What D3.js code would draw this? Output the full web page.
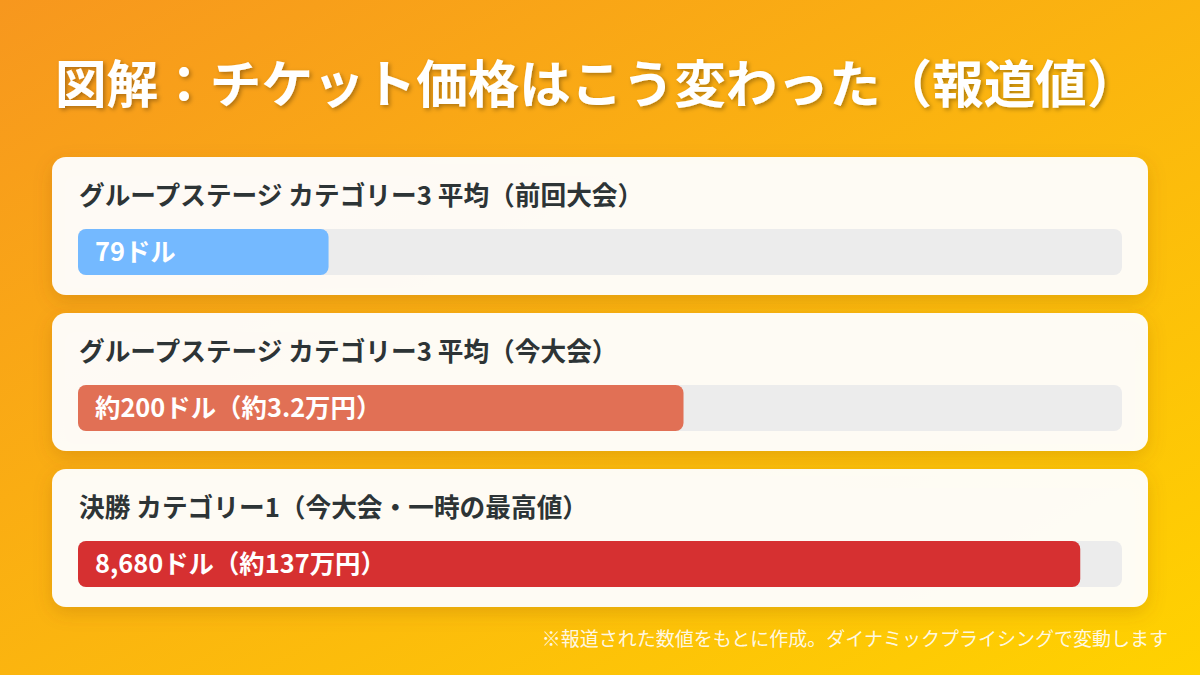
<!DOCTYPE html>
<html><head><meta charset="utf-8">
<script src="https://cdn.jsdelivr.net/npm/d3@7"></script>
<style>
html,body{margin:0;padding:0;width:1200px;height:675px;overflow:hidden;}
svg{display:block;font-family:"Noto Sans CJK JP","Noto Sans",sans-serif;}
</style></head>
<body><svg id="chart" width="1200" height="675"></svg>
<script>
const title = "図解：チケット価格はこう変わった（報道値）";
const categories = [
  "グループステージ カテゴリー3 平均（前回大会）",
  "グループステージ カテゴリー3 平均（今大会）",
  "決勝 カテゴリー1（今大会・一時の最高値）"
];
const values = [79, 200, 8680];
const valueLabels = ["79ドル", "約200ドル（約3.2万円）", "8,680ドル（約137万円）"];
const colors = ["#74b9ff", "#e17055", "#d63031"];
const footnote = "※報道された数値をもとに作成。ダイナミックプライシングで変動します";

const W = 1200, H = 675;
const svg = d3.select("#chart");
const defs = svg.append("defs");
const bg = defs.append("linearGradient").attr("id","bg")
  .attr("x1","0").attr("y1","0").attr("x2","1").attr("y2","1");
bg.append("stop").attr("offset","0%").attr("stop-color","#f7971e");
bg.append("stop").attr("offset","100%").attr("stop-color","#ffd200");
const sh = defs.append("filter").attr("id","cardShadow")
  .attr("x","-10%").attr("y","-30%").attr("width","120%").attr("height","170%");
sh.append("feDropShadow").attr("dx",0).attr("dy",6).attr("stdDeviation",9)
  .attr("flood-color","#8a4a00").attr("flood-opacity",0.22);
const tsh = defs.append("filter").attr("id","titleShadow")
  .attr("x","-5%").attr("y","-30%").attr("width","110%").attr("height","160%");
tsh.append("feDropShadow").attr("dx",2).attr("dy",2).attr("stdDeviation",2)
  .attr("flood-color","#000").attr("flood-opacity",0.3);

svg.append("rect").attr("width",W).attr("height",H).attr("fill","url(#bg)");

svg.append("text").attr("x",55).attr("y",103)
  .attr("fill","#fff").attr("font-size",51.6).attr("font-weight",700)
  .attr("filter","url(#titleShadow)").text(title);

const cardX = 52, cardW = 1096, cardH = 138, cardTop = 157, cardGap = 18;
const trackX = 78, trackW = 1044, trackH = 46;

const y = d3.scaleBand().domain(d3.range(categories.length))
  .range([cardTop, cardTop + categories.length*cardH + (categories.length-1)*cardGap])
  .paddingInner(cardGap/(cardH+cardGap)).paddingOuter(0);

// display scale (piecewise, as in the reference's bar lengths)
const x = d3.scaleLinear().domain([0, ...values])
  .range([0, 0.24, 0.58, 0.96].map(f => f*trackW));

const cards = svg.selectAll("g.card").data(categories).join("g")
  .attr("class","card").attr("transform",(d,i)=>`translate(0,${y(i)})`);

cards.append("rect").attr("x",cardX).attr("y",0).attr("width",cardW).attr("height",y.bandwidth())
  .attr("rx",14).attr("fill","rgba(255,255,255,0.95)").attr("filter","url(#cardShadow)");

cards.append("text").attr("x",79).attr("y",48)
  .attr("fill","#2d3436").attr("font-size",25.7).attr("font-weight",700)
  .text(d=>d);

cards.append("rect").attr("x",trackX).attr("y",72).attr("width",trackW).attr("height",trackH)
  .attr("rx",8).attr("fill","#ececec");

cards.append("rect").attr("x",trackX).attr("y",72)
  .attr("width",(d,i)=>x(values[i])).attr("height",trackH)
  .attr("rx",8).attr("fill",(d,i)=>colors[i]);

cards.append("text").attr("x",95).attr("y",104)
  .attr("fill","#fff").attr("font-size",25.4).attr("font-weight",700)
  .text((d,i)=>valueLabels[i]);

svg.append("text").attr("x",1168).attr("y",646).attr("text-anchor","end")
  .attr("fill","rgba(255,255,255,0.9)").attr("font-size",19)
  .text(footnote);
</script></body></html>
